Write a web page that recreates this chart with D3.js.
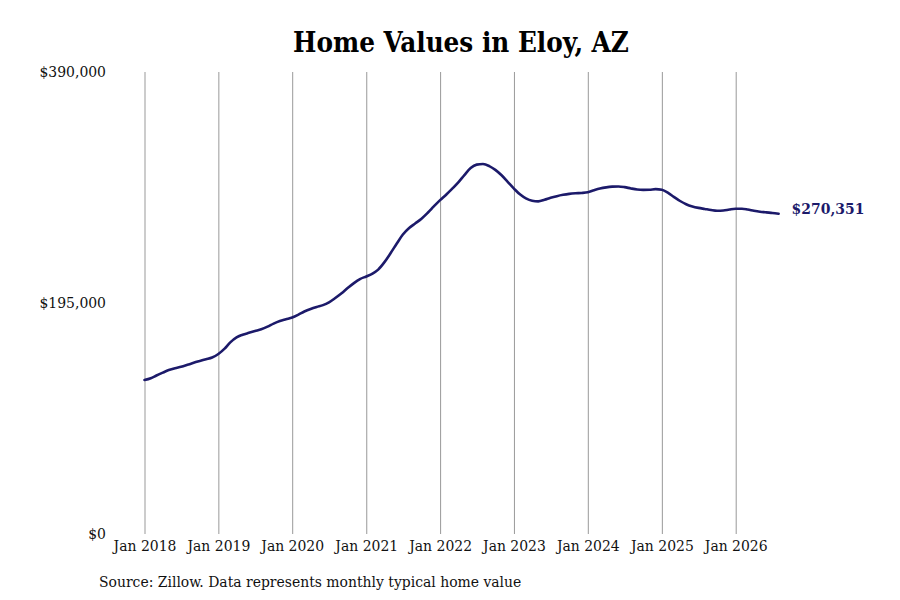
<!DOCTYPE html>
<html lang="en">
  <head>
    <meta charset="utf-8">
    <title>Home Values in Eloy, AZ</title>
    <script type="text/javascript" src="https://d3js.org/d3.v7.min.js"></script>
    <style type="text/css">
    body {
      margin: 0;
      background: #fff;
    }
    .charttitle {
      font-family: "DejaVu Serif Condensed", "DejaVu Serif", serif;
      font-weight: bold;
      font-size: 27.5px;
      fill: #000;
    }
    .axis text, .source {
      font-family: "DejaVu Serif Condensed", "DejaVu Serif", serif;
      font-size: 15.5px;
      fill: #111;
    }
    .endlabel {
      font-family: "DejaVu Serif Condensed", "DejaVu Serif", serif;
      font-weight: bold;
      font-size: 15.5px;
      fill: #1c1a6a;
    }
    </style>
  </head>
  <body>
    <svg width="900" height="600" id="chart"></svg>
    <script type="text/javascript">

// monthly typical home value, Jan 2018 onward
    const startYear = 2018;
    const startMonth = 0;
    const homeValues = [
      130000, 131500, 133800, 136200, 138400, 140000, 141200, 142800, 144500, 146000, 147500, 149000,
      152000, 156500, 161800, 166000, 168200, 169800, 171300, 172800, 175000, 177600, 179800, 181300,
      182800, 185200, 187800, 190000, 191700, 193200, 195600, 199200, 203200, 207600, 211800, 215200,
      217400, 219800, 223200, 229500, 237000, 245200, 252800, 258300, 262300, 266200, 271200, 276500,
      281800, 286600, 291300, 296800, 303000, 308900, 311800, 312300, 310600, 307400, 302800, 297300,
      291600, 286500, 283300, 281300, 280800, 282100, 283800, 285200, 286300, 287100, 287600, 287900,
      288500, 290200, 291600, 292600, 293200, 293400, 292800, 291700, 290800, 290500, 290600, 291100,
      290600, 288000, 284600, 281100, 278400, 276500, 275300, 274400, 273500, 272900, 273100, 273900,
      274500, 274500, 273900, 272900, 272100, 271500, 271000, 270351
    ];
    const yTicks = [0, 195000, 390000];
    const xTickYears = [2018, 2019, 2020, 2021, 2022, 2023, 2024, 2025, 2026];

    const dataset = homeValues.map((v, i) => ({
      date: new Date(startYear, startMonth + i, 1),
      value: v
    }));

    const svg = d3.select("#chart");

    const xScale = d3.scaleTime()
        .domain([new Date(2018, 0, 1), new Date(2026, 0, 1)])
        .range([144.5, 735.7]);

    const yScale = d3.scaleLinear()
        .domain([0, 390000])
        .range([534, 72]);

    const fmt = d3.format("$,.0f");

// title
    svg.append("text")
        .attr("class", "charttitle")
        .attr("x", 461)
        .attr("y", 52)
        .attr("text-anchor", "middle")
        .text("Home Values in Eloy, AZ");

// vertical gridlines + bottom labels
    const bottomAxis = d3.axisBottom(xScale)
        .tickValues(xTickYears.map(y => new Date(y, 0, 1)))
        .tickFormat(d3.timeFormat("Jan %Y"))
        .tickSize(-(534 - 72))
        .tickPadding(6);

    const gx = svg.append("g")
        .attr("class", "axis")
        .attr("transform", "translate(0,534)")
        .call(bottomAxis);
    gx.select(".domain").remove();
    gx.selectAll("line").attr("stroke", "#999").attr("stroke-width", 1);

// left labels, no axis line
    const leftAxis = d3.axisLeft(yScale)
        .tickValues(yTicks)
        .tickFormat(fmt)
        .tickSize(0)
        .tickPadding(38);

    const gy = svg.append("g")
        .attr("class", "axis")
        .attr("transform", "translate(144,0)")
        .call(leftAxis);
    gy.select(".domain").remove();

// the line
    const line = d3.line()
        .x(d => xScale(d.date))
        .y(d => yScale(d.value))
        .curve(d3.curveMonotoneX);

    svg.append("path")
        .datum(dataset)
        .attr("fill", "none")
        .attr("stroke", "#1c1a6a")
        .attr("stroke-width", 2.6)
        .attr("stroke-linejoin", "round")
        .attr("stroke-linecap", "round")
        .attr("d", line);

    const last = dataset[dataset.length - 1];
    svg.append("text")
        .attr("class", "endlabel")
        .attr("x", xScale(last.date) + 13)
        .attr("y", yScale(last.value) - 5)
        .attr("dy", "0.35em")
        .text(fmt(last.value));

    svg.append("text")
        .attr("class", "source")
        .attr("x", 99)
        .attr("y", 587)
        .text("Source: Zillow. Data represents monthly typical home value");

    </script>
  </body>
</html>
